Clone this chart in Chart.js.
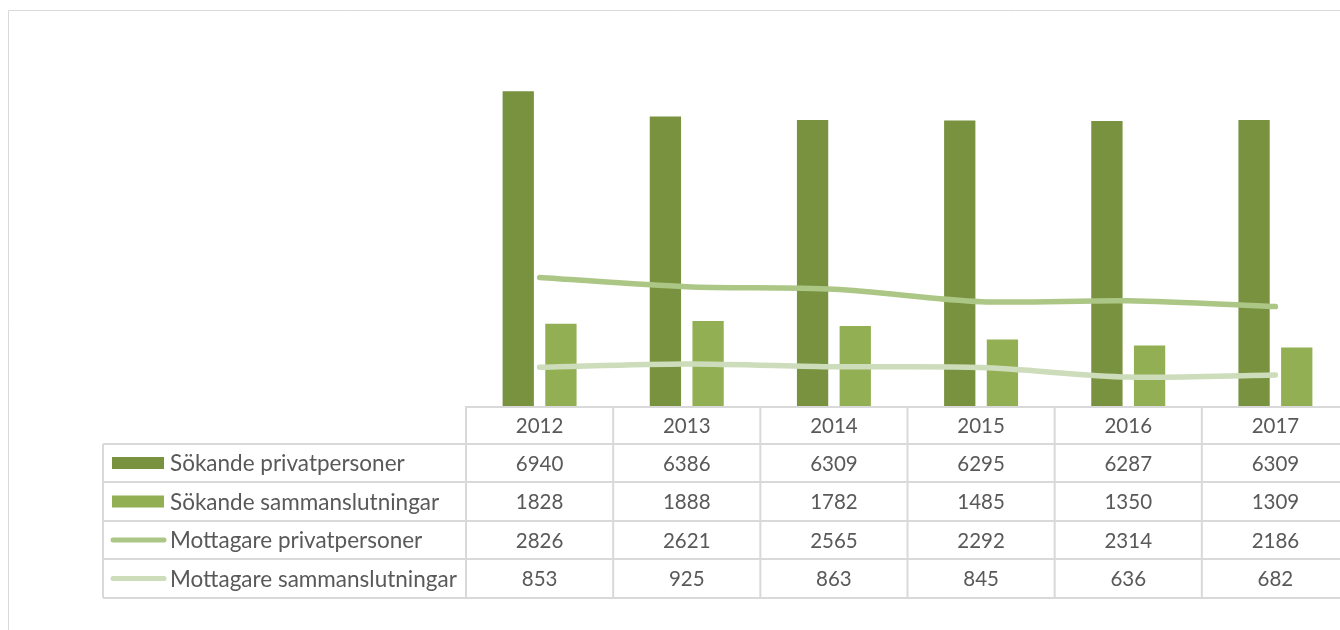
<!DOCTYPE html>
<html>
<head>
<meta charset="utf-8">
<script src="https://cdn.jsdelivr.net/npm/chart.js@4"></script>
<style>
  html, body { margin: 0; padding: 0; background: #fff; overflow: hidden; }
  #wrap { position: absolute; left: 0; top: 0; width: 1350px; height: 630px; }
</style>
</head>
<body>
<div id="wrap"><canvas id="c" width="1350" height="630"></canvas></div>
<script>
const years = ['2012', '2013', '2014', '2015', '2016', '2017'];
const sokandePrivat = [6940, 6386, 6309, 6295, 6287, 6309];
const sokandeSamman = [1828, 1888, 1782, 1485, 1350, 1309];
const mottagarePrivat = [2826, 2621, 2565, 2292, 2314, 2186];
const mottagareSamman = [853, 925, 863, 845, 636, 682];
const seriesNames = ['Sökande privatpersoner', 'Sökande sammanslutningar', 'Mottagare privatpersoner', 'Mottagare sammanslutningar'];

const colors = ['#78923F', '#92AF53', '#ACC685', '#CDDCBA'];
const gridColor = '#D9D9D9';
const textColor = '#595959';
const fontFamily = 'Lato, "Open Sans", sans-serif';

const tablePlugin = {
  id: 'dataTable',
  beforeDraw(chart) {
    const ctx = chart.ctx;
    ctx.save();
    ctx.strokeStyle = gridColor;
    ctx.lineWidth = 1;
    ctx.beginPath();
    ctx.moveTo(8.5, 640);
    ctx.lineTo(8.5, 10.5);
    ctx.lineTo(1360, 10.5);
    ctx.stroke();
    ctx.restore();
  },
  afterDraw(chart) {
    const ctx = chart.ctx;
    const xs = chart.scales.x;
    const area = chart.chartArea;
    const n = years.length;
    const colW = (area.right - area.left) / n;
    const top = area.bottom;
    const rowYs = [top, 444, 482, 521, 559, 598];
    const legendLeft = 103;
    const right = 1360;
    ctx.save();
    ctx.strokeStyle = gridColor;
    ctx.lineWidth = 2;
    ctx.beginPath();
    ctx.moveTo(area.left, rowYs[0] + 1);
    ctx.lineTo(right, rowYs[0] + 1);
    for (let r = 1; r < rowYs.length; r++) {
      ctx.moveTo(legendLeft, rowYs[r]);
      ctx.lineTo(right, rowYs[r]);
    }
    for (let i = 0; i <= n; i++) {
      const x = area.left + i * colW;
      ctx.moveTo(x, rowYs[0]);
      ctx.lineTo(x, rowYs[rowYs.length - 1]);
    }
    ctx.moveTo(legendLeft, rowYs[1]);
    ctx.lineTo(legendLeft, rowYs[rowYs.length - 1]);
    ctx.stroke();

    ctx.fillStyle = textColor;
    ctx.font = '20.5px ' + fontFamily;
    ctx.textBaseline = 'middle';
    ctx.textAlign = 'center';
    years.forEach((y, i) => {
      const cx = xs.getPixelForValue(i);
      ctx.fillText(y, cx, (rowYs[0] + rowYs[1]) / 2 + 1);
    });
    const allData = [sokandePrivat, sokandeSamman, mottagarePrivat, mottagareSamman];
    allData.forEach((arr, r) => {
      const cy = (rowYs[r + 1] + rowYs[r + 2]) / 2 + 1;
      arr.forEach((v, i) => {
        ctx.fillText(String(v), xs.getPixelForValue(i), cy);
      });
    });
    ctx.textAlign = 'left';
    ctx.font = '22.5px ' + fontFamily;
    seriesNames.forEach((name, r) => {
      const cy = (rowYs[r + 1] + rowYs[r + 2]) / 2;
      if (r < 2) {
        ctx.fillStyle = colors[r];
        ctx.fillRect(112, cy - 6, 52, 12);
      } else {
        ctx.strokeStyle = colors[r];
        ctx.lineWidth = 5;
        ctx.lineCap = 'round';
        ctx.beginPath();
        ctx.moveTo(113, cy);
        ctx.lineTo(164, cy);
        ctx.stroke();
      }
      ctx.fillStyle = textColor;
      ctx.fillText(name, 170, cy + 1);
    });
    ctx.restore();
  }
};

new Chart(document.getElementById('c'), {
  data: {
    labels: years,
    datasets: [
      { type: 'bar', label: seriesNames[0], data: sokandePrivat, backgroundColor: colors[0], borderColor: 'rgba(255,255,255,0.35)', borderWidth: 1, order: 2, barPercentage: 0.78, categoryPercentage: 0.58 },
      { type: 'bar', label: seriesNames[1], data: sokandeSamman, backgroundColor: colors[1], borderColor: 'rgba(255,255,255,0.35)', borderWidth: 1, order: 2, barPercentage: 0.78, categoryPercentage: 0.58 },
      { type: 'line', label: seriesNames[2], data: mottagarePrivat, borderColor: colors[2], borderWidth: 5.5, borderCapStyle: 'round', pointRadius: 0, tension: 0.3, order: 1 },
      { type: 'line', label: seriesNames[3], data: mottagareSamman, borderColor: colors[3], borderWidth: 5.5, borderCapStyle: 'round', pointRadius: 0, tension: 0.3, order: 1 }
    ]
  },
  options: {
    responsive: false,
    animation: false,
    layout: { padding: { left: 466, right: 1, top: 42, bottom: 224 } },
    plugins: { legend: { display: false }, tooltip: { enabled: false }, title: { display: false } },
    scales: {
      x: { display: false, offset: true },
      y: { display: false, min: 0, max: 8000 }
    }
  },
  plugins: [tablePlugin]
});
</script>
</body>
</html>
